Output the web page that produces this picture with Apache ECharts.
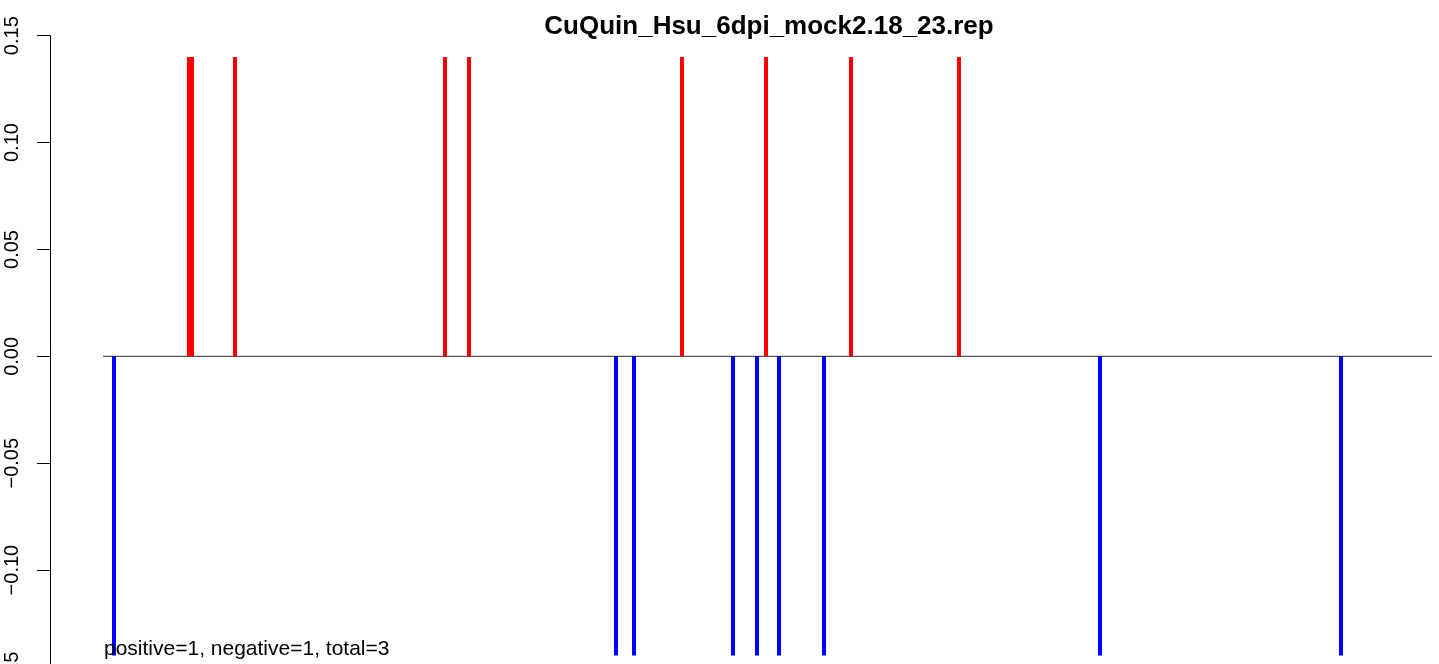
<!DOCTYPE html>
<html>
<head>
<meta charset="utf-8">
<script src="https://cdn.jsdelivr.net/npm/echarts@6/dist/echarts.min.js"></script>
<style>
html,body{margin:0;padding:0;background:#fff;}
#chart{width:1439px;height:664px;}
</style>
</head>
<body>
<div id="chart"></div>
<script>
var titleText = "CuQuin_Hsu_6dpi_mock2.18_23.rep";
var noteText = "positive=1, negative=1, total=3";
var yTicks = [-0.15, -0.10, -0.05, 0.00, 0.05, 0.10, 0.15];
var positivePos = [139, 142, 185, 395, 419, 632, 716, 801, 909];
var positiveVal = [0.14, 0.14, 0.14, 0.14, 0.14, 0.14, 0.14, 0.14, 0.14];
var negativePos = [64, 566, 584, 683, 707, 729, 774, 1050, 1291];
var negativeVal = [-0.14, -0.14, -0.14, -0.14, -0.14, -0.14, -0.14, -0.14, -0.14];
var baselineRange = [53, 1382];

var font = '"Liberation Sans", Arial, Helvetica, sans-serif';
var chart = echarts.init(document.getElementById('chart'), null, {renderer: 'canvas'});

function pairs(xs, ys) { return xs.map(function (x, i) { return [x, ys[i]]; }); }

chart.setOption({
  animation: false,
  backgroundColor: '#ffffff',
  title: {
    text: titleText,
    left: 764,
    textAlign: 'center',
    top: 9,
    textStyle: {fontFamily: font, fontWeight: 'bold', fontSize: 26, color: '#000'}
  },
  grid: {left: 50, right: 0, top: 35.7, bottom: -13, containLabel: false, outerBoundsMode: 'none'},
  xAxis: {
    type: 'value', min: 0, max: 1389, show: false
  },
  yAxis: {
    type: 'value', min: yTicks[0], max: yTicks[yTicks.length - 1], interval: 0.05,
    axisLine: {show: true, lineStyle: {color: '#000', width: 1}},
    axisTick: {show: true, length: 13, lineStyle: {color: '#000', width: 1}},
    splitLine: {show: false},
    axisLabel: {
      rotate: 90, margin: 28, fontFamily: font, fontSize: 20, color: '#000',
      formatter: function (v) { return (Math.round(v * 100) / 100).toFixed(2).replace('-', '\u2212'); }
    }
  },
  series: [
    {
      type: 'line', data: [[baselineRange[0], 0], [baselineRange[1], 0]],
      showSymbol: false, symbol: 'none', lineStyle: {color: '#555555', width: 1.2}, z: 1, silent: true
    },
    {
      type: 'bar', data: pairs(positivePos, positiveVal), barWidth: 4, barGap: '-100%',
      itemStyle: {color: '#ff0000'}, z: 2, silent: true
    },
    {
      type: 'bar', data: pairs(negativePos, negativeVal), barWidth: 4, barGap: '-100%',
      itemStyle: {color: '#0000ff'}, z: 2, silent: true
    }
  ],
  graphic: [{
    type: 'text', left: 104, top: 639, z: 10,
    style: {text: noteText, fontFamily: font, fontSize: 21, fill: '#000'}
  }]
});
</script>
</body>
</html>
